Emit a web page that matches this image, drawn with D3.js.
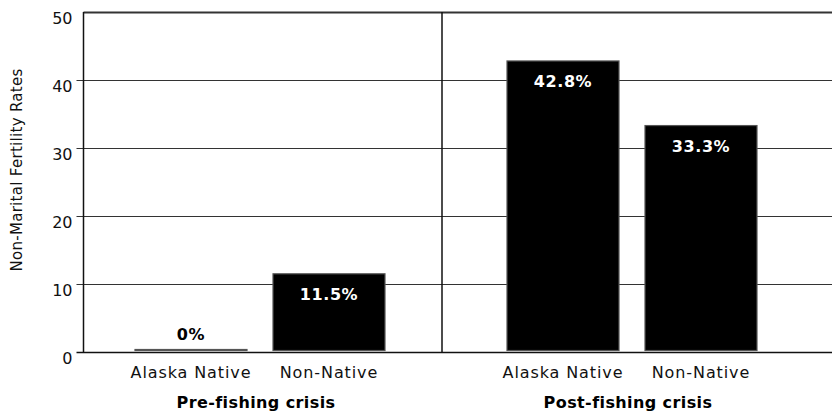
<!DOCTYPE html>
<html>
<head>
<meta charset="utf-8">
<script src="https://cdn.jsdelivr.net/npm/d3@7"></script>
<style>
  html, body { margin: 0; padding: 0; background: #fff; }
  svg { display: block; font-family: "DejaVu Sans", sans-serif; }
</style>
</head>
<body>
<svg id="chart" width="832" height="414"></svg>
<script>
// Non-marital fertility rates before and after the fishing crisis
const groups = ["Pre-fishing crisis", "Post-fishing crisis"];
const categories = ["Alaska Native", "Non-Native"];
const preValues = [0, 11.5];
const postValues = [42.8, 33.3];
const yTicks = [0, 10, 20, 30, 40, 50];
const yTitle = "Non-Marital Fertility Rates";

const seriesByGroup = [preValues, postValues];
const rows = [];
groups.forEach((g, gi) => {
  categories.forEach((c, ci) => rows.push({ group: g, cat: c, value: seriesByGroup[gi][ci] }));
});

const axisX = 83.5, rightX = 832;
const svg = d3.select("#chart");

const y = d3.scaleLinear().domain([0, 50]).range([352, 12]);
const x0 = d3.scaleBand().domain(groups).range([70, 814]);
const x1 = d3.scaleBand().domain(categories).range([65, 315]).paddingInner(26 / 138);

// y axis with gridlines spanning the plot
const yAxis = svg.append("g")
  .attr("transform", `translate(${axisX},0)`)
  .call(d3.axisLeft(y).tickValues(yTicks).tickSize(-(rightX - axisX)).tickPadding(11));
yAxis.select(".domain").remove();
yAxis.selectAll(".tick line")
  .attr("x1", -7)
  .attr("stroke", "#333")
  .attr("stroke-width", 1.2);
yAxis.selectAll(".tick")
  .filter(d => d === 50)
  .select("line").attr("x1", 0).attr("stroke-width", 2);
yAxis.selectAll(".tick")
  .filter(d => d === 0)
  .select("line").attr("stroke", "#111").attr("stroke-width", 1.5);
yAxis.selectAll(".tick text")
  .attr("font-family", "DejaVu Sans, sans-serif")
  .attr("font-size", 16)
  .attr("fill", "#111")
  .attr("dy", "0.74em");

// vertical axis line and group divider
svg.append("line")
  .attr("x1", axisX).attr("x2", axisX)
  .attr("y1", y(50)).attr("y2", y(0))
  .attr("stroke", "#111").attr("stroke-width", 1.5);
svg.append("line")
  .attr("x1", x0(groups[1])).attr("x2", x0(groups[1]))
  .attr("y1", y(50)).attr("y2", y(0))
  .attr("stroke", "#111").attr("stroke-width", 1.5);

// bars (an empty bar still shows as a thin outline on the baseline)
const barX = d => x0(d.group) + x1(d.cat);
const barTop = d => Math.min(y(d.value), y(0) - 2.5);
svg.append("g").selectAll("rect")
  .data(rows)
  .join("rect")
  .attr("x", d => barX(d))
  .attr("y", d => barTop(d))
  .attr("width", x1.bandwidth())
  .attr("height", d => Math.max(1, y(0) - 1.5 - barTop(d)))
  .attr("fill", "#000")
  .attr("stroke", "#555")
  .attr("stroke-width", 1.2);

// value labels: inside the bar in white, above it when the bar is empty
svg.append("g").selectAll("text")
  .data(rows)
  .join("text")
  .attr("x", d => barX(d) + x1.bandwidth() / 2)
  .attr("y", d => d.value > 0 ? y(d.value) + 26 : y(d.value) - 12)
  .attr("text-anchor", "middle")
  .attr("font-weight", "bold")
  .attr("font-size", 16)
  .attr("letter-spacing", 0.6)
  .attr("fill", d => d.value > 0 ? "#fff" : "#000")
  .text(d => `${d.value}%`);

// category labels under each bar
svg.append("g").selectAll("text")
  .data(rows)
  .join("text")
  .attr("x", d => barX(d) + x1.bandwidth() / 2)
  .attr("y", 378)
  .attr("text-anchor", "middle")
  .attr("font-size", 16)
  .attr("letter-spacing", 0.9)
  .attr("fill", "#111")
  .text(d => d.cat);

// group labels
svg.append("g").selectAll("text")
  .data(groups)
  .join("text")
  .attr("x", g => x0(g) + (x1.range()[0] + x1.range()[1]) / 2 - 4)
  .attr("y", 408)
  .attr("text-anchor", "middle")
  .attr("font-weight", "bold")
  .attr("font-size", 16)
  .attr("letter-spacing", 0.4)
  .attr("fill", "#000")
  .text(g => g);

// y axis title
svg.append("text")
  .attr("transform", `translate(22,${170}) rotate(-90)`)
  .attr("text-anchor", "middle")
  .attr("font-size", 15)
  .attr("letter-spacing", 0.3)
  .attr("fill", "#111")
  .text(yTitle);
</script>
</body>
</html>
